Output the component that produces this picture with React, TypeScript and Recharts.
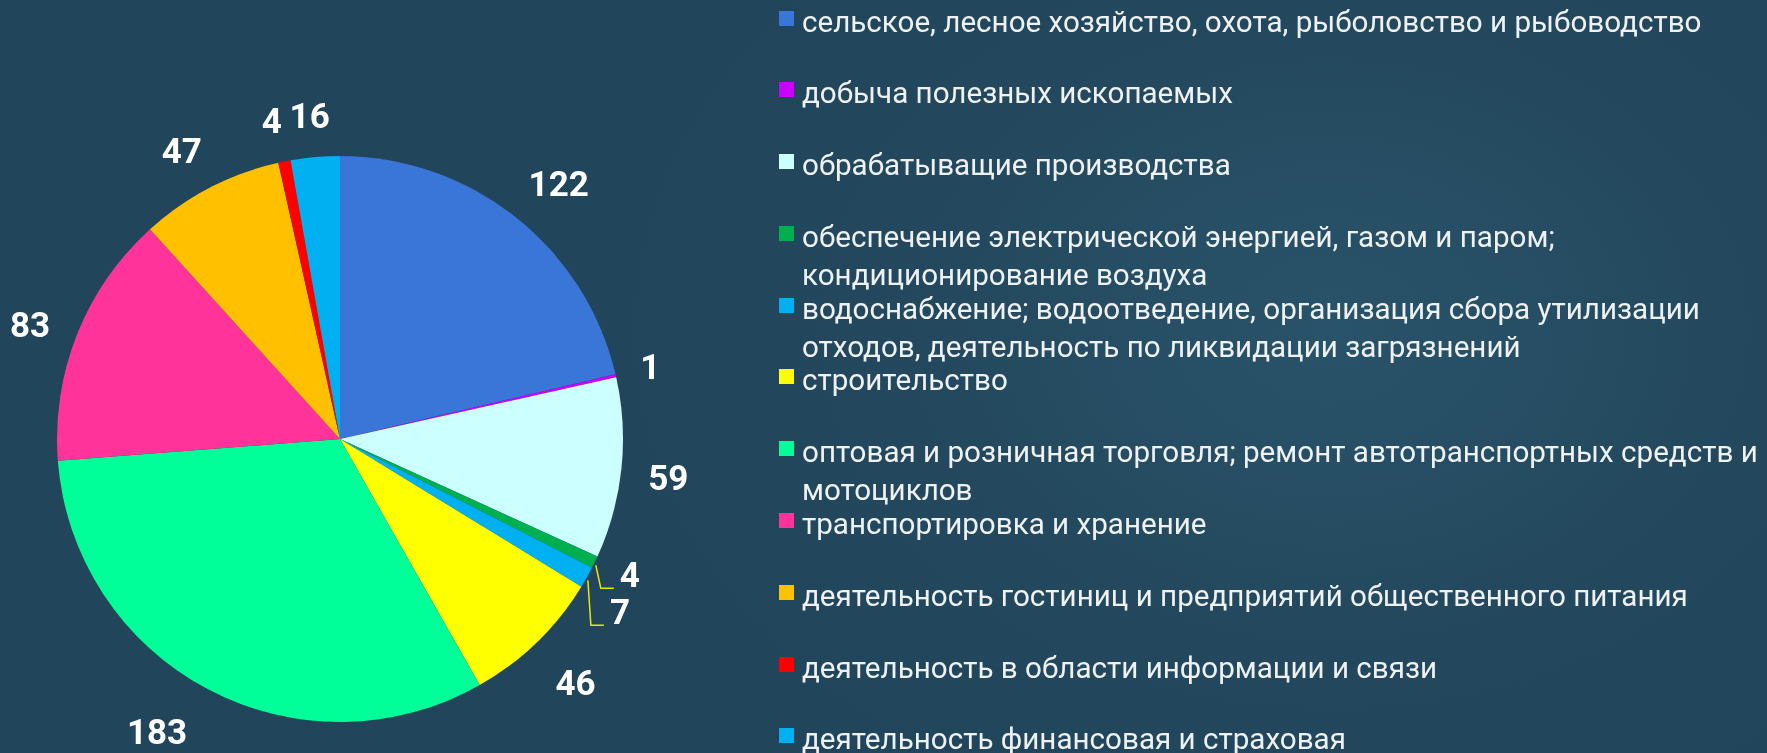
import { Cell, Legend, Pie, PieChart } from "recharts";

const categories = [
  "сельское, лесное хозяйство, охота, рыболовство и рыбоводство",
  "добыча полезных ископаемых",
  "обрабатыващие производства",
  "обеспечение электрической энергией, газом и паром;\nкондиционирование воздуха",
  "водоснабжение; водоотведение, организация сбора утилизации отходов, деятельность по ликвидации загрязнений",
  "строительство",
  "оптовая и розничная торговля; ремонт автотранспортных средств и мотоциклов",
  "транспортировка и хранение",
  "деятельность гостиниц и предприятий общественного питания",
  "деятельность в области информации и связи",
  "деятельность финансовая и страховая",
];

const counts = [122, 1, 59, 4, 7, 46, 183, 83, 47, 4, 16];

const sliceColors = [
  "#3A76D8",
  "#CC00FF",
  "#CCFFFF",
  "#00B050",
  "#00B0F0",
  "#FFFF00",
  "#00FF99",
  "#FF3399",
  "#FFC000",
  "#FF0000",
  "#00B0F0",
];

const data = categories.map((name, i) => ({ name, value: counts[i] }));

const RADIAN = Math.PI / 180;
const LABEL_SIZE = 35;
// small slices on the right get a leader line, offset [dx, dy] from slice edge
const leaders: Record<number, [number, number]> = { 3: [25, 25], 4: [23, 47] };
// hand nudges for a few labels so they sit like the original
const nudges: Record<number, [number, number]> = {
  1: [-7, 0],
  2: [-5, -4],
  6: [-15, -5],
  7: [2, 6],
  9: [-2, 0],
  10: [3, 0],
};

function renderLabel(props: any) {
  const { cx, cy, midAngle, outerRadius, value, index } = props;
  const cos = Math.cos(-midAngle * RADIAN);
  const sin = Math.sin(-midAngle * RADIAN);
  const ex = cx + outerRadius * cos;
  const ey = cy + outerRadius * sin;
  const text = String(value);
  const textStyle = {
    fill: "#ffffff",
    fontFamily: "Roboto, sans-serif",
    fontWeight: 700,
    fontSize: LABEL_SIZE,
  };

  const lead = leaders[index];
  if (lead) {
    const lx = ex + lead[0];
    const by = ey + lead[1];
    return (
      <g key={`lbl-${index}`}>
        <polyline
          points={`${ex + 1},${ey + 3} ${lx - 19},${by + 1} ${lx - 6},${by + 1}`}
          fill="none"
          stroke="#E8E800"
          strokeWidth={1.5}
        />
        <text x={lx} y={by} textAnchor="start" style={textStyle}>
          {text}
        </text>
      </g>
    );
  }

  const w = text.length * 19;
  const h = 28;
  const r0 = outerRadius + 33;
  const px = cx + r0 * cos;
  const py = cy + r0 * sin;
  const [nx, ny] = nudges[index] ?? [0, 0];
  const x = px + (w / 2) * Math.sign(cos) * Math.sqrt(Math.abs(cos)) + nx;
  const y = py + (h / 2) * Math.sign(sin) * Math.sqrt(Math.abs(sin)) + 5 + ny;
  return (
    <text
      key={`lbl-${index}`}
      x={x}
      y={y + LABEL_SIZE * 0.355}
      textAnchor="middle"
      style={textStyle}
    >
      {text}
    </text>
  );
}

function renderLegend() {
  return (
    <div style={{ fontFamily: "Roboto, sans-serif", fontSize: 29.6, color: "#EEF2F4" }}>
      {categories.map((name, i) => (
        <div
          key={i}
          style={{ position: "relative", height: 71.8, paddingLeft: 22, lineHeight: "38px", whiteSpace: "pre-line" }}
        >
          <span
            style={{
              position: "absolute",
              left: -1,
              top: 8,
              width: 15,
              height: 15,
              background: sliceColors[i],
            }}
          />
          {name}
        </div>
      ))}
    </div>
  );
}

export default function App() {
  return (
    <div
      style={{
        position: "fixed",
        inset: 0,
        width: 1767,
        height: 753,
        overflow: "hidden",
        background:
          "radial-gradient(ellipse 700px 520px at 1330px 330px, #29536a 0%, #24495e 55%, #21455a 100%)",
      }}
    >
      <PieChart width={1767} height={753} margin={{ top: 0, right: 0, bottom: 0, left: 0 }}>
        <Pie
          data={data}
          dataKey="value"
          nameKey="name"
          cx={340}
          cy={439}
          outerRadius={283}
          startAngle={90}
          endAngle={-270}
          stroke="none"
          label={renderLabel}
          labelLine={false}
          isAnimationActive={false}
        >
          {data.map((_, i) => (
            <Cell key={i} fill={sliceColors[i]} />
          ))}
        </Pie>
        <Legend
          layout="vertical"
          align="right"
          verticalAlign="top"
          content={renderLegend}
          wrapperStyle={{ left: 780, top: 2.5, width: 987 }}
        />
      </PieChart>
    </div>
  );
}
